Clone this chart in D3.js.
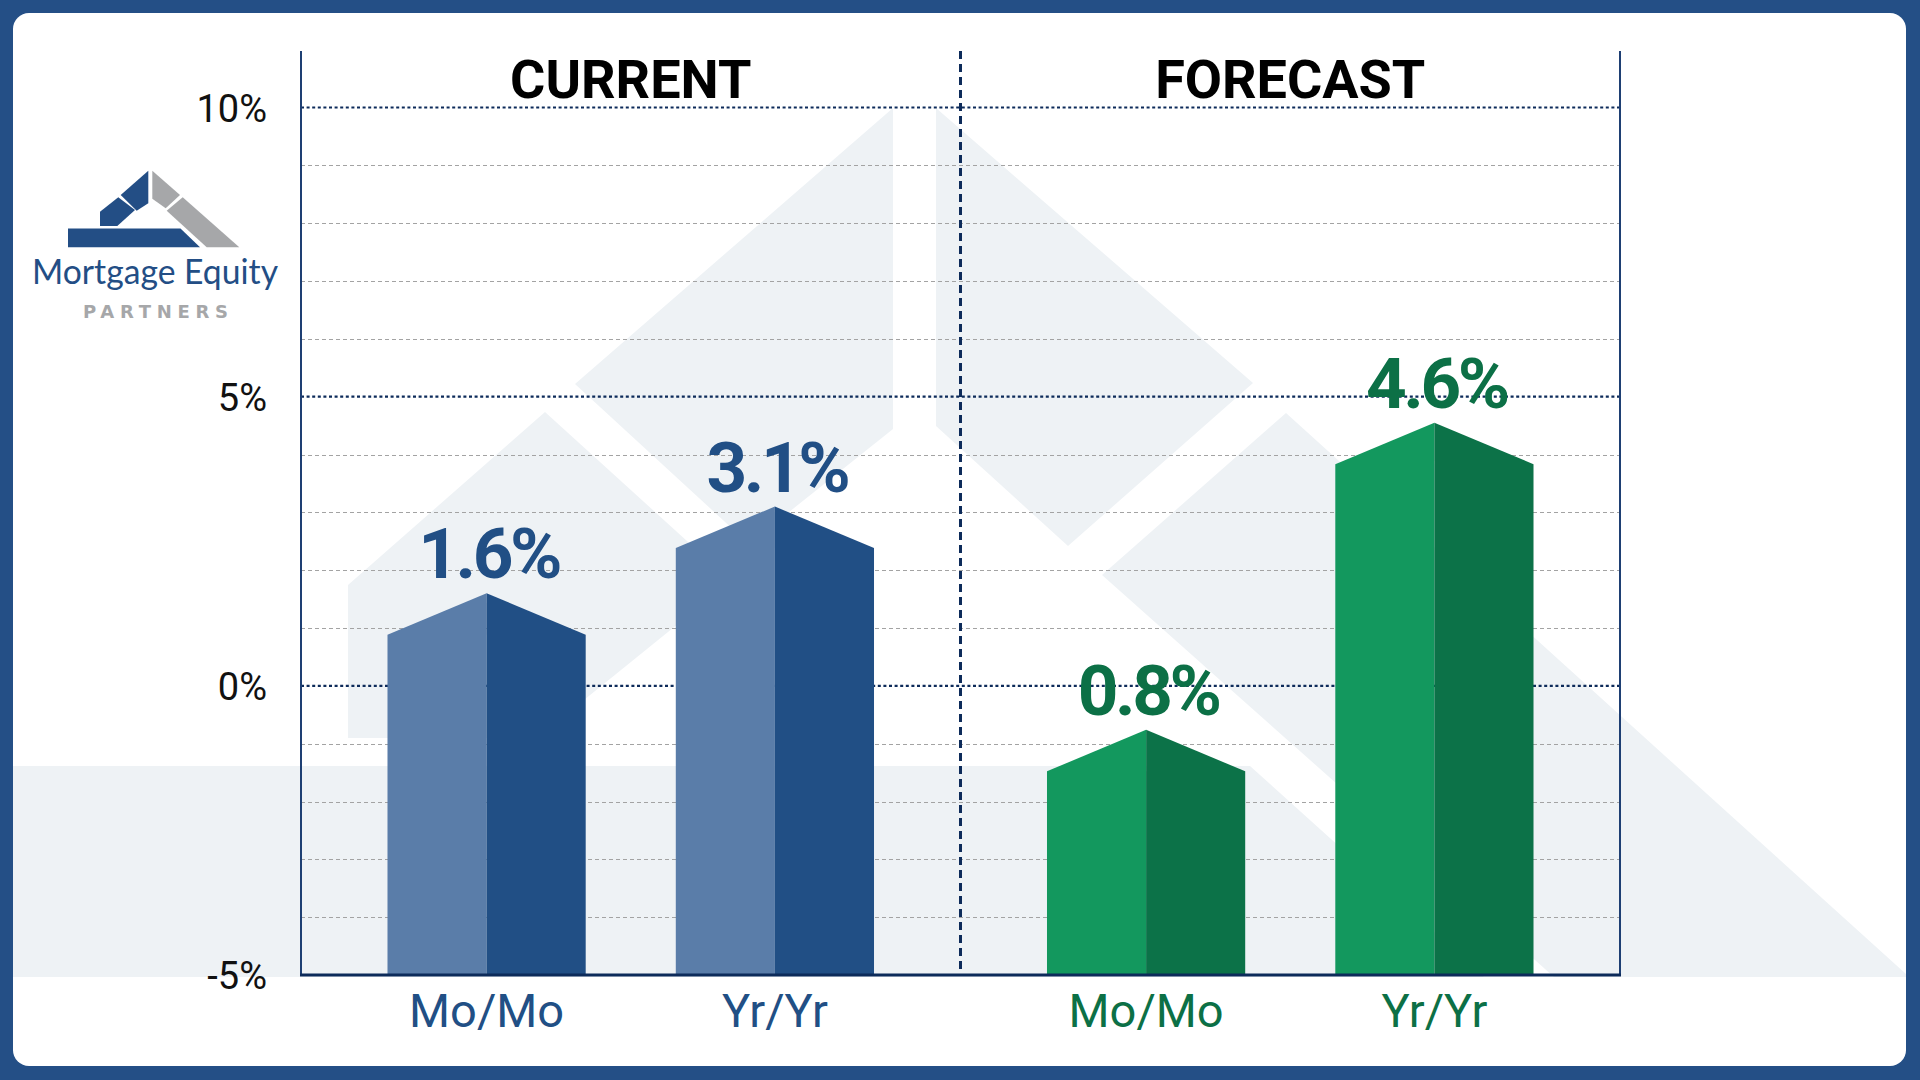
<!DOCTYPE html>
<html>
<head>
<meta charset="utf-8">
<script src="https://cdn.jsdelivr.net/npm/d3@7"></script>
<style>
  html, body { margin: 0; padding: 0; background: #244F86; }
  svg { display: block; }
</style>
</head>
<body>
<svg id="chart" width="1920" height="1080"></svg>
<script>
// ---------------- DATA ----------------
const groups = ["CURRENT", "FORECAST"];
const categories = ["Mo/Mo", "Yr/Yr"];
const barGroup = ["CURRENT", "CURRENT", "FORECAST", "FORECAST"];
const barCategory = ["Mo/Mo", "Yr/Yr", "Mo/Mo", "Yr/Yr"];
// level of each bar's peak, read against the value axis of the picture
const barPeakValues = [1.6, 3.1, -0.76, 4.55];
// printed value labels
const valueLabels = ["1.6%", "3.1%", "0.8%", "4.6%"];
const yMajorTicks = [-5, 0, 5, 10];
const yTickLabels = ["-5%", "0%", "5%", "10%"];
const yMinorTicks = [-4, -3, -2, -1, 1, 2, 3, 4, 6, 7, 8, 9];

// ---------------- STYLE ----------------
const palette = {
  CURRENT: { light: "#5A7DA9", dark: "#214F85", text: "#214F85" },
  FORECAST: { light: "#13985E", dark: "#0C7248", text: "#0C7046" }
};
const navy = "#0D2B5A";
const wm = "#EEF2F5";

const svg = d3.select("#chart");
const W = 1920, H = 1080;
const plot = { left: 301, right: 1620, top: 51, bottom: 975 };

// background frame
svg.append("rect").attr("x", 0).attr("y", 0).attr("width", W).attr("height", H).attr("fill", "#244F86");
svg.append("rect").attr("x", 13).attr("y", 13).attr("width", 1893).attr("height", 1053)
  .attr("rx", 16).attr("fill", "#ffffff");

// clip for the decorative watermark
svg.append("clipPath").attr("id", "panelClip")
  .append("rect").attr("x", 13).attr("y", 13).attr("width", 1893).attr("height", 964);

// ---------------- decorative watermark (logo motif) ----------------
const watermark = [
  [[13, 766], [1250, 766], [1484, 977], [13, 977]],
  [[348, 738], [348, 585], [545, 412], [731, 581], [537, 738]],
  [[575, 384], [893, 108], [893, 429], [749, 544]],
  [[936, 108], [1253, 383], [1068, 546], [936, 426]],
  [[1102, 575], [1286, 413], [1906, 974], [1906, 977], [1554, 977]]
];
svg.append("g").attr("clip-path", "url(#panelClip)")
  .selectAll("polygon").data(watermark).join("polygon")
  .attr("points", d => d.map(p => p.join(",")).join(" "))
  .attr("fill", wm);

// ---------------- logo ----------------
const logoBlue = "#234E85", logoGray = "#A6A7A9";
const logoShapes = [
  { c: logoBlue, p: [[68, 228.5], [180.5, 228.5], [200, 247.3], [68, 247.3]] },
  { c: logoBlue, p: [[100, 226], [100, 211.7], [118.3, 197.3], [135, 210], [117.3, 226]] },
  { c: logoBlue, p: [[120.7, 195], [148.3, 170.7], [148.3, 203.3], [136.7, 210.7]] },
  { c: logoGray, p: [[152.3, 170.7], [180, 195], [165.7, 208.3], [152.3, 198.8]] },
  { c: logoGray, p: [[166.7, 210.7], [182.7, 197.3], [239.3, 247.3], [206.7, 247.3]] }
];
const logo = svg.append("g");
logo.selectAll("polygon").data(logoShapes).join("polygon")
  .attr("points", d => d.p.map(p => p.join(",")).join(" "))
  .attr("fill", d => d.c);
logo.append("text").attr("x", 32).attr("y", 284)
  .attr("textLength", 246).attr("lengthAdjust", "spacingAndGlyphs")
  .style("font-family", "Lato, 'Open Sans', sans-serif").style("font-size", "35px")
  .attr("fill", logoBlue).text("Mortgage Equity");
logo.append("text").attr("x", 83).attr("y", 318)
  .attr("textLength", 145).attr("lengthAdjust", "spacing")
  .style("font-family", "'DejaVu Sans', 'Open Sans', sans-serif").style("font-size", "18px").style("font-weight", "700")
  .attr("fill", logoGray).text("PARTNERS");

// ---------------- scales ----------------
const y = d3.scaleLinear().domain([-5, 10]).range([plot.bottom, 107.5]);
const xGroup = d3.scaleBand().domain(groups).range([plot.left, plot.right]).padding(0);
const xInner = d3.scaleBand().domain(categories).range([0, xGroup.bandwidth()])
  .paddingInner(0.3125).paddingOuter(0.3);

// ---------------- gridlines ----------------
const grid = svg.append("g");
grid.selectAll("line.minor").data(yMinorTicks).join("line")
  .attr("class", "minor")
  .attr("x1", plot.left).attr("x2", plot.right)
  .attr("y1", d => Math.round(y(d)) + 0.5).attr("y2", d => Math.round(y(d)) + 0.5)
  .attr("stroke", "#A3A3A3").attr("stroke-width", 1).attr("stroke-dasharray", "4,3");
grid.selectAll("line.major").data(yMajorTicks.filter(d => d > -5)).join("line")
  .attr("class", "major")
  .attr("x1", plot.left).attr("x2", plot.right)
  .attr("y1", d => y(d)).attr("y2", d => y(d))
  .attr("stroke", navy).attr("stroke-width", 2.2).attr("stroke-dasharray", "3,2.6");

// y axis labels
const yAxis = d3.axisLeft(y).tickValues(yMajorTicks)
  .tickFormat(d => yTickLabels[yMajorTicks.indexOf(d)])
  .tickSize(0).tickPadding(34);
const yAxisG = svg.append("g").attr("transform", `translate(${plot.left},0)`).call(yAxis);
yAxisG.select(".domain").remove();
yAxisG.selectAll("text")
  .style("font-family", "Roboto, sans-serif").style("font-size", "38px")
  .attr("fill", "#111111").attr("dy", "0.36em");

// frame lines
svg.append("line").attr("x1", plot.left).attr("x2", plot.left).attr("y1", plot.top).attr("y2", plot.bottom)
  .attr("stroke", "#1E3F73").attr("stroke-width", 2);
svg.append("line").attr("x1", plot.right).attr("x2", plot.right).attr("y1", plot.top).attr("y2", plot.bottom)
  .attr("stroke", "#1E3F73").attr("stroke-width", 2);
svg.append("line").attr("x1", xGroup("FORECAST")).attr("x2", xGroup("FORECAST"))
  .attr("y1", plot.top).attr("y2", plot.bottom)
  .attr("stroke", navy).attr("stroke-width", 3).attr("stroke-dasharray", "8,5");

// ---------------- bars ----------------
const bevel = 41.5;
const bars = barPeakValues.map((v, i) => {
  const x0 = xGroup(barGroup[i]) + xInner(barCategory[i]);
  const bw = xInner.bandwidth();
  return { i, v, g: barGroup[i], c: barCategory[i], x0, xm: x0 + bw / 2, x1: x0 + bw, peak: y(v) };
});
const base = y(-5);
const barG = svg.append("g");
barG.selectAll("polygon.left").data(bars).join("polygon").attr("class", "left")
  .attr("points", d => [[d.x0, base], [d.x0, d.peak + bevel], [d.xm, d.peak], [d.xm, base]].map(p => p.join(",")).join(" "))
  .attr("fill", d => palette[d.g].light);
barG.selectAll("polygon.right").data(bars).join("polygon").attr("class", "right")
  .attr("points", d => [[d.xm, base], [d.xm, d.peak], [d.x1, d.peak + bevel], [d.x1, base]].map(p => p.join(",")).join(" "))
  .attr("fill", d => palette[d.g].dark);

// value labels
svg.append("g").selectAll("text").data(bars).join("text")
  .attr("x", d => d.xm + 2).attr("y", d => d.peak - 15)
  .attr("text-anchor", "middle")
  .style("font-family", "Roboto, sans-serif").style("font-size", "71px").style("font-weight", "700")
  .style("letter-spacing", "-3.5px")
  .attr("fill", d => palette[d.g].text)
  .text(d => valueLabels[d.i]);

// bottom axis line
svg.append("line").attr("x1", plot.left - 1).attr("x2", plot.right + 1).attr("y1", base).attr("y2", base)
  .attr("stroke", navy).attr("stroke-width", 3);

// category labels
svg.append("g").selectAll("text").data(bars).join("text")
  .attr("x", d => d.xm).attr("y", 1027)
  .attr("text-anchor", "middle")
  .style("font-family", "Roboto, sans-serif").style("font-size", "47px")
  .attr("fill", d => palette[d.g].text)
  .text(d => d.c);

// group headers
svg.append("g").selectAll("text").data(groups).join("text")
  .attr("x", d => xGroup(d) + xGroup.bandwidth() / 2).attr("y", 98)
  .attr("text-anchor", "middle")
  .style("font-family", "Roboto, sans-serif").style("font-size", "54px").style("font-weight", "700")
  .attr("fill", "#000000")
  .text(d => d);
</script>
</body>
</html>
